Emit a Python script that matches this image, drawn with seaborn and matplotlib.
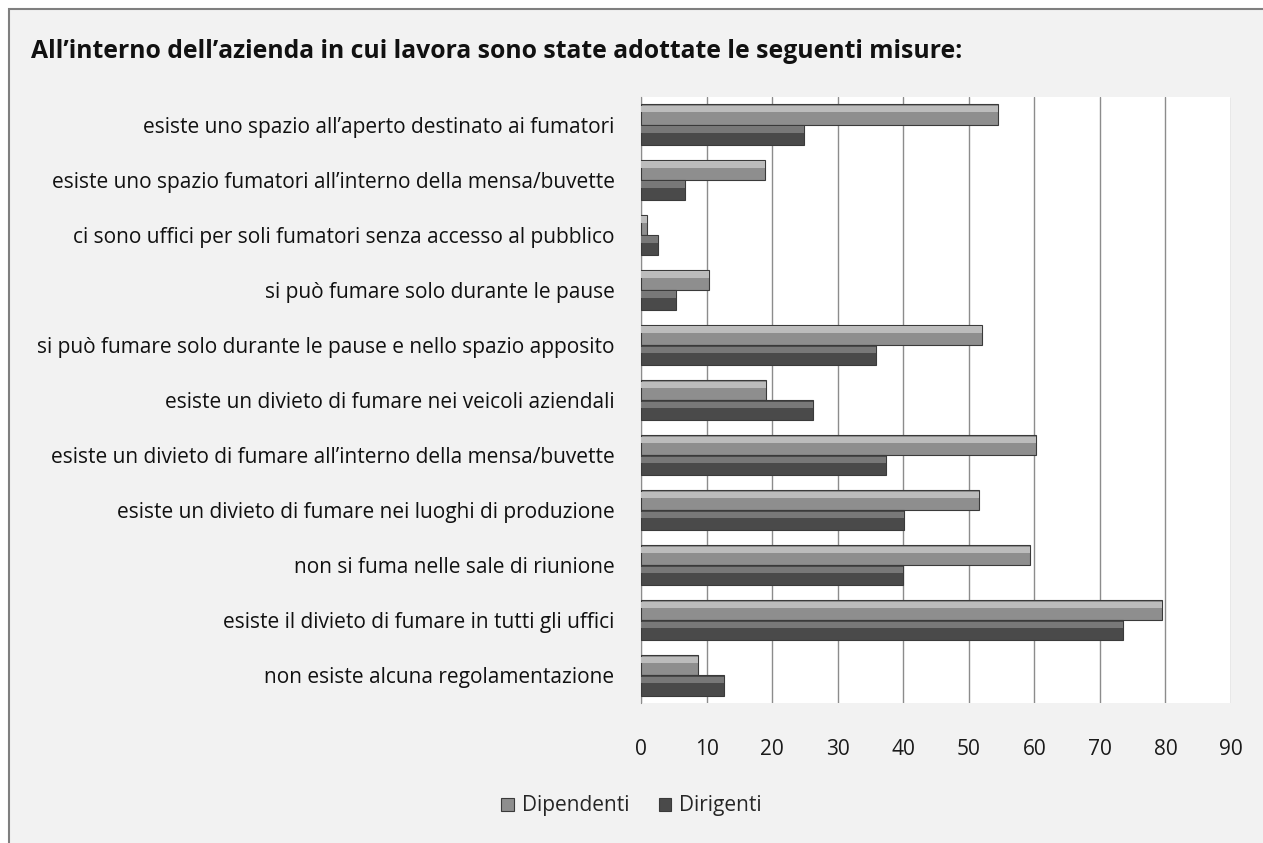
import pandas as pd
import seaborn as sns
import matplotlib.pyplot as plt
from matplotlib.patches import Rectangle

categories = [
    "esiste uno spazio all\u2019aperto destinato ai fumatori",
    "esiste uno spazio fumatori all\u2019interno della mensa/buvette",
    "ci sono uffici per soli fumatori senza accesso al pubblico",
    "si può fumare solo durante le pause",
    "si può fumare solo durante le pause e nello spazio apposito",
    "esiste un divieto di fumare nei veicoli aziendali",
    "esiste un divieto di fumare all\u2019interno della mensa/buvette",
    "esiste un divieto di fumare nei luoghi di produzione",
    "non si fuma nelle sale di riunione",
    "esiste il divieto di fumare in tutti gli uffici",
    "non esiste alcuna regolamentazione",
]
dipendenti = [54.4, 18.9, 0.9, 10.3, 52.0, 19.0, 60.3, 51.6, 59.3, 79.4, 8.7]
dirigenti = [24.8, 6.7, 2.6, 5.4, 35.9, 26.2, 37.4, 40.1, 40.0, 73.5, 12.6]
series = ["Dipendenti", "Dirigenti"]
xticks = [0, 10, 20, 30, 40, 50, 60, 70, 80, 90]

df = pd.DataFrame({
    "misura": categories * 2,
    "valore": dipendenti + dirigenti,
    "serie": [series[0]] * len(categories) + [series[1]] * len(categories),
})

sns.set_style("white")
plt.rcParams["font.family"] = ["Open Sans", "DejaVu Sans"]

fig = plt.figure(figsize=(12.63, 8.43), dpi=100)
fig.patch.set_facecolor("white")
# chart frame
fig.patches.append(Rectangle((9 / 1263, -0.05), 1.1, 1 - 9 / 843 + 0.05,
                             transform=fig.transFigure, facecolor="#f2f2f2",
                             edgecolor="#7f7f7f", linewidth=1.5, zorder=-10))

ax = fig.add_axes([641 / 1263, 1 - 703 / 843, 590 / 1263, 606 / 843])
sns.barplot(data=df, x="valore", y="misura", hue="serie", order=categories,
            hue_order=series, palette=["#8e8e8e", "#4a4a4a"], orient="h",
            width=0.73, edgecolor="#3a3a3a", linewidth=0.8, ax=ax, zorder=3)

# soft bevel on the upper part of each bar
for bar in list(ax.patches):
    if bar.get_width() <= 0:
        continue
    fc = bar.get_facecolor()
    lighter = tuple(min(1, c + 0.18) for c in fc[:3])
    ax.add_patch(Rectangle((bar.get_x(), bar.get_y() + bar.get_height() * 0.08),
                           bar.get_width(), bar.get_height() * 0.32,
                           facecolor=lighter, edgecolor="none", zorder=4))

ax.set_facecolor("white")
ax.set_xlim(0, 90)
ax.set_xticks(xticks)
ax.grid(axis="x", color="#8c8c8c", linewidth=1, zorder=0)
for side in ["top", "right", "bottom"]:
    ax.spines[side].set_visible(False)
ax.spines["left"].set_color("#8c8c8c")
ax.tick_params(axis="x", length=0, pad=26, labelsize=15, colors="#1a1a1a")
ax.tick_params(axis="y", length=0, pad=19, labelsize=15, colors="#111111")
ax.set_xlabel("")
ax.set_ylabel("")

handles, labels = ax.get_legend_handles_labels()
ax.legend_.remove()
fig.legend(handles, labels, loc="center", bbox_to_anchor=(0.5, 1 - 806 / 843),
           ncol=2, frameon=False, fontsize=15, handlelength=0.6,
           handleheight=0.6, columnspacing=1.4, handletextpad=0.4)

fig.text(31 / 1263, 1 - 52 / 843, "All\u2019interno dell\u2019azienda in cui lavora sono state adottate le seguenti misure:",
         fontsize=17.8, fontweight="bold", va="center", ha="left", color="#111111")

fig.savefig("out.png", dpi=100, facecolor=fig.get_facecolor())
